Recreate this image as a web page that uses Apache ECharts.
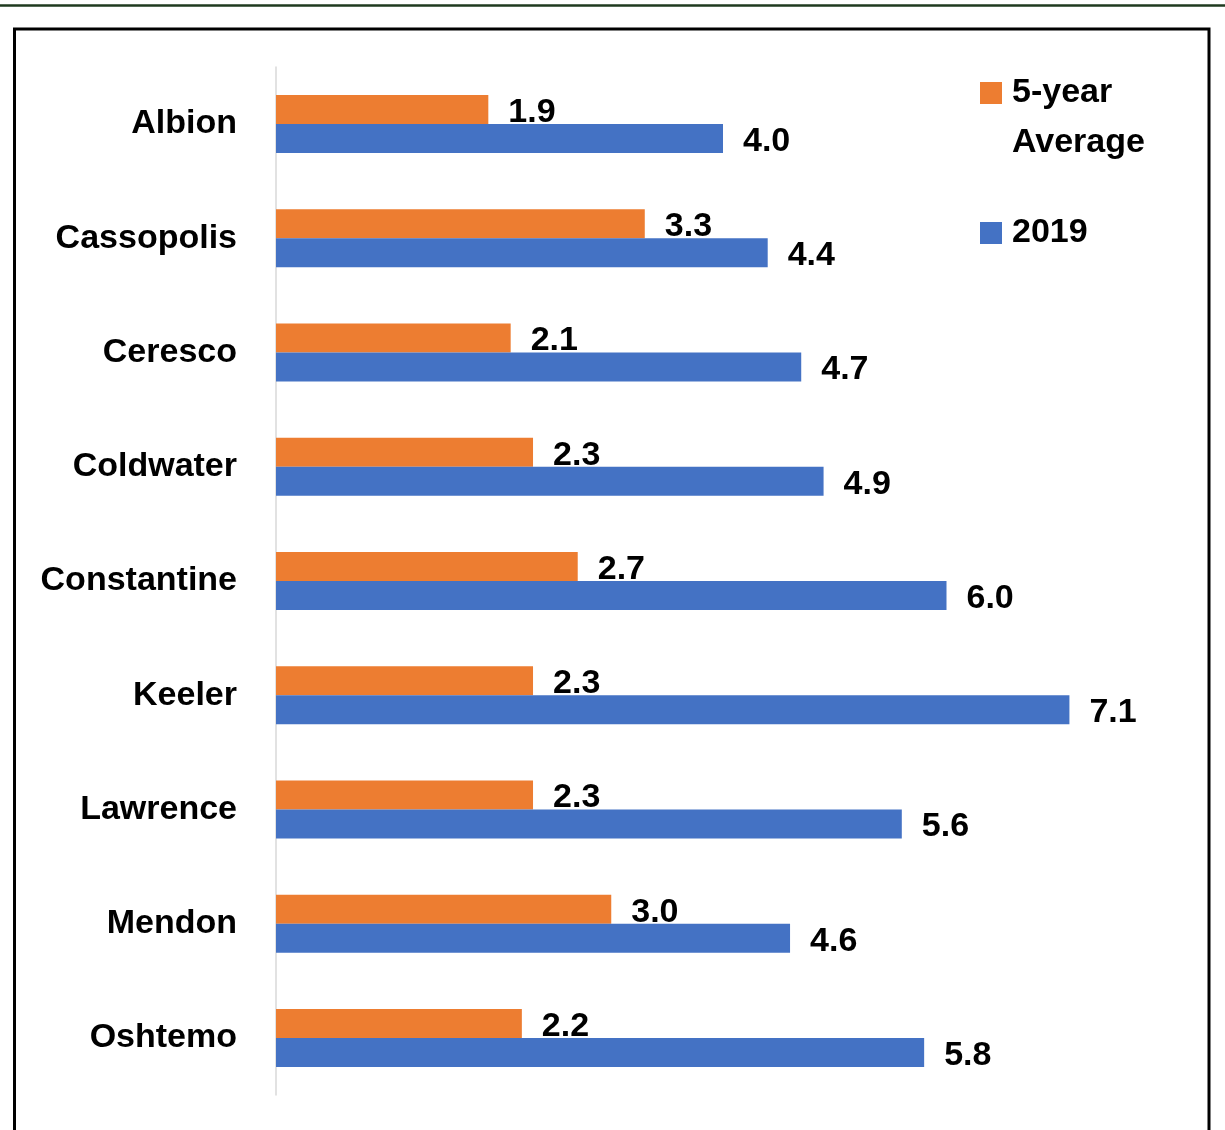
<!DOCTYPE html>
<html>
<head>
<meta charset="utf-8">
<script src="https://cdn.jsdelivr.net/npm/echarts@6/dist/echarts.min.js"></script>
<style>
html,body{margin:0;padding:0;background:#fff;}
#chart{width:1225px;height:1130px;}
</style>
</head>
<body>
<div id="chart"></div>
<script>
const categories = ['Albion','Cassopolis','Ceresco','Coldwater','Constantine','Keeler','Lawrence','Mendon','Oshtemo'];
const fiveYearAvg = [1.9, 3.3, 2.1, 2.3, 2.7, 2.3, 2.3, 3.0, 2.2];
const year2019 = [4.0, 4.4, 4.7, 4.9, 6.0, 7.1, 5.6, 4.6, 5.8];
const seriesNames = ['5-year Average', '2019'];

const FONT = '"Liberation Sans", Arial, sans-serif';
const chart = echarts.init(document.getElementById('chart'), null, {renderer: 'canvas'});
const labelStyle = {
  show: true, position: 'right', distance: 20, offset: [0, 3],
  color: '#000', fontFamily: FONT, fontWeight: 'bold', fontSize: 34,
  formatter: p => p.value.toFixed(1)
};
const legText = {color: '#000', fontFamily: FONT, fontWeight: 'bold', fontSize: 34, lineHeight: 50, padding: [0, 0, 0, 5]};
chart.setOption({
  backgroundColor: '#fff',
  animation: false,
  graphic: [
    {type: 'line', shape: {x1: 0, y1: 5.5, x2: 1225, y2: 5.5}, style: {stroke: '#1f3a1f', lineWidth: 2.5}},
    {type: 'rect', shape: {x: 14.5, y: 29, width: 1194.5, height: 1120}, style: {fill: 'none', stroke: '#000', lineWidth: 3}}
  ],
  legend: [
    {
      data: [seriesNames[0]], orient: 'vertical', left: 975, top: 13,
      icon: 'rect', itemWidth: 22, itemHeight: 22,
      formatter: () => '{e| }\n{a|5-year}\n{a|Average}',
      textStyle: {color: '#000', fontFamily: FONT, fontWeight: 'bold', fontSize: 34, lineHeight: 50,
        rich: {e: legText, a: legText}}
    },
    {
      data: [seriesNames[1]], orient: 'vertical', left: 975, top: 203,
      icon: 'rect', itemWidth: 22, itemHeight: 22,
      formatter: n => '{a|' + n + '}',
      textStyle: {color: '#000', fontFamily: FONT, fontWeight: 'bold', fontSize: 34, lineHeight: 50,
        rich: {a: legText}}
    }
  ],
  grid: {left: 276, right: 55, top: 67, bottom: 35, containLabel: false},
  xAxis: {type: 'value', min: 0, max: 8, show: false, splitLine: {show: false}},
  yAxis: {
    type: 'category', data: categories, inverse: true,
    axisLine: {show: true, lineStyle: {color: '#d9d9d9', width: 1.5}},
    axisTick: {show: false},
    axisLabel: {color: '#000', fontFamily: FONT, fontWeight: 'bold', fontSize: 34, margin: 39}
  },
  series: [
    {name: seriesNames[0], type: 'bar', data: fiveYearAvg, barWidth: 29, barGap: '0%',
     itemStyle: {color: '#ED7D31'}, label: labelStyle},
    {name: seriesNames[1], type: 'bar', data: year2019, barWidth: 29, barGap: '0%',
     itemStyle: {color: '#4472C4'}, label: labelStyle}
  ]
});
</script>
</body>
</html>
